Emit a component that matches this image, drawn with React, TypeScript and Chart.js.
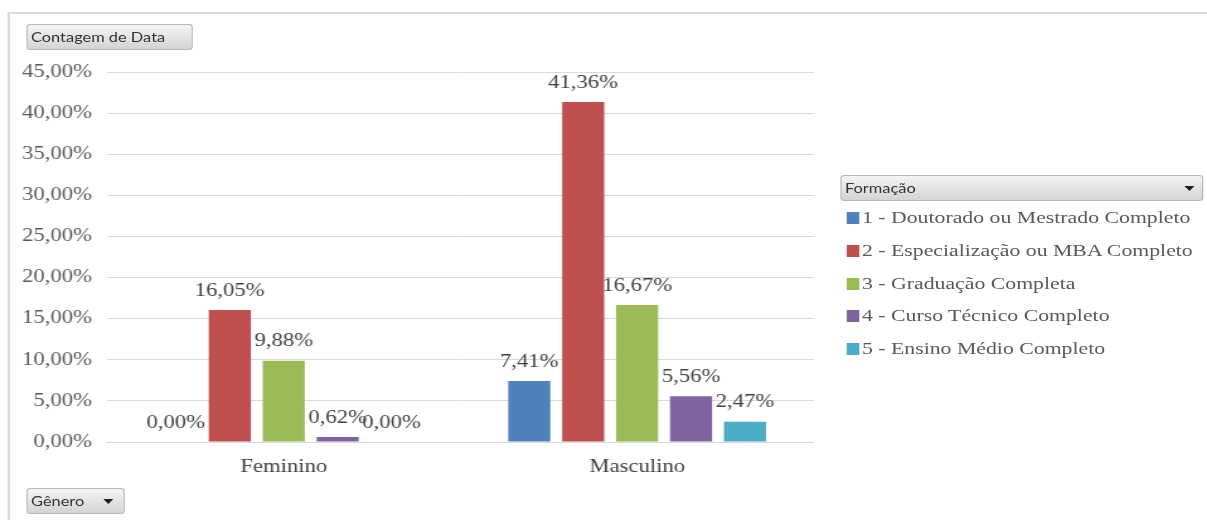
import React, { useEffect, useRef } from "react";
import { Chart, registerables } from "chart.js";

Chart.register(...registerables);

const categories = ["Feminino", "Masculino"];
const seriesNames = [
  "1 - Doutorado ou Mestrado Completo",
  "2 - Especialização ou MBA Completo",
  "3 - Graduação Completa",
  "4 - Curso Técnico Completo",
  "5 - Ensino Médio Completo",
];
const seriesColors = ["#4F81BD", "#C0504D", "#9BBB59", "#8064A2", "#4BACC6"];
const doutorado = [0.0, 7.41];
const especializacao = [16.05, 41.36];
const graduacao = [9.88, 16.67];
const tecnico = [0.62, 5.56];
const medio = [0.0, 2.47];
const seriesValues = [doutorado, especializacao, graduacao, tecnico, medio];
const yMax = 45;
const yStep = 5;

const S = 1.26; // horizontal stretch of the reference
const W = 1207 / S;
const H = 520;

const fmt = (v: number) => v.toFixed(2).replace(".", ",") + "%";

const serif = "'Liberation Serif', 'Times New Roman', serif";
const sans = "Lato, 'Noto Sans', sans-serif";

const labelPlugin = {
  id: "valueLabels",
  afterDatasetsDraw(chart: any) {
    const ctx = chart.ctx;
    ctx.save();
    ctx.font = `18px ${serif}`;
    ctx.fillStyle = "#404040";
    ctx.textAlign = "center";
    ctx.textBaseline = "middle";
    chart.data.datasets.forEach((ds: any, i: number) => {
      const meta = chart.getDatasetMeta(i);
      meta.data.forEach((bar: any, j: number) => {
        ctx.fillText(fmt(ds.data[j]), bar.x, bar.y - 19);
      });
    });
    ctx.restore();
  },
};

const btn: React.CSSProperties = {
  position: "absolute",
  boxSizing: "border-box",
  height: 26,
  border: "1px solid #b8b8b8",
  borderRadius: 3,
  background: "linear-gradient(#f4f4f4, #d4d4d4)",
  fontFamily: sans,
  fontSize: 13,
  color: "#333",
  lineHeight: "24px",
  paddingLeft: 3,
  whiteSpace: "nowrap",
};

const arrow = (right: number): React.CSSProperties => ({
  position: "absolute",
  right,
  top: 10,
  width: 0,
  height: 0,
  borderLeft: "4px solid transparent",
  borderRight: "4px solid transparent",
  borderTop: "5px solid #222",
});

export default function App() {
  const ref = useRef<HTMLCanvasElement>(null);
  useEffect(() => {
    if (!ref.current) return;
    const chart = new Chart(ref.current, {
      type: "bar",
      data: {
        labels: categories,
        datasets: seriesNames.map((n, i) => ({
          label: n,
          data: seriesValues[i],
          backgroundColor: seriesColors[i],
          borderWidth: 0,
          categoryPercentage: 0.763,
          barPercentage: 0.78,
        })),
      },
      options: {
        responsive: false,
        animation: false,
        devicePixelRatio: 1,
        layout: { padding: { top: 72, left: 0, right: W - 815 / S, bottom: 0 } },
        plugins: { legend: { display: false }, tooltip: { enabled: false } },
        scales: {
          x: {
            grid: { display: false, drawTicks: false },
            border: { display: true, color: "#d9d9d9" },
            ticks: { font: { family: serif, size: 18 }, color: "#404040", padding: 14 },
            afterFit: (s: any) => {
              s.height = H - 442;
            },
          },
          y: {
            min: 0,
            max: yMax,
            ticks: {
              stepSize: yStep,
              font: { family: serif, size: 18 },
              color: "#595959",
              padding: 12,
              callback: (v: any) => fmt(Number(v)),
            },
            grid: { color: "#d9d9d9", drawTicks: false },
            border: { display: false },
            afterFit: (s: any) => {
              s.width = 107 / S;
            },
          },
        },
      },
      plugins: [labelPlugin],
    });
    return () => chart.destroy();
  }, []);

  const legendTops = [218, 251, 284, 316, 349];

  return (
    <div
      style={{
        position: "absolute",
        left: 0,
        top: 0,
        width: W,
        height: H,
        overflow: "hidden",
        background: "#fff",
        transform: `scaleX(${S})`,
        transformOrigin: "0 0",
      }}
    >
      <div
        style={{
          position: "absolute",
          left: 8 / S,
          top: 12,
          width: W,
          height: H,
          borderTop: "2px solid #d9d9d9",
          borderLeft: "2px solid #d9d9d9",
        }}
      />
      <canvas ref={ref} width={W} height={H} style={{ position: "absolute", left: 0, top: 0 }} />
      <div style={{ ...btn, left: 26 / S, top: 24, width: (193 - 26) / S }}>Contagem de Data</div>
      <div style={{ ...btn, left: 26 / S, top: 488, width: (125 - 26) / S }}>
        Gênero
        <div style={arrow(8)} />
      </div>
      <div style={{ ...btn, left: 840 / S, top: 175, width: (1203 - 840) / S }}>
        Formação
        <div style={arrow(6)} />
      </div>
      {seriesNames.map((n, i) => (
        <div
          key={n}
          style={{
            position: "absolute",
            left: 847 / S,
            top: legendTops[i] - 12,
            height: 24,
            display: "flex",
            alignItems: "center",
            whiteSpace: "nowrap",
            fontFamily: serif,
            fontSize: 17.3,
            color: "#595959",
          }}
        >
          <span
            style={{
              display: "inline-block",
              width: 12 / S,
              height: 12,
              background: seriesColors[i],
              marginRight: 3 / S,
            }}
          />
          {n}
        </div>
      ))}
    </div>
  );
}
